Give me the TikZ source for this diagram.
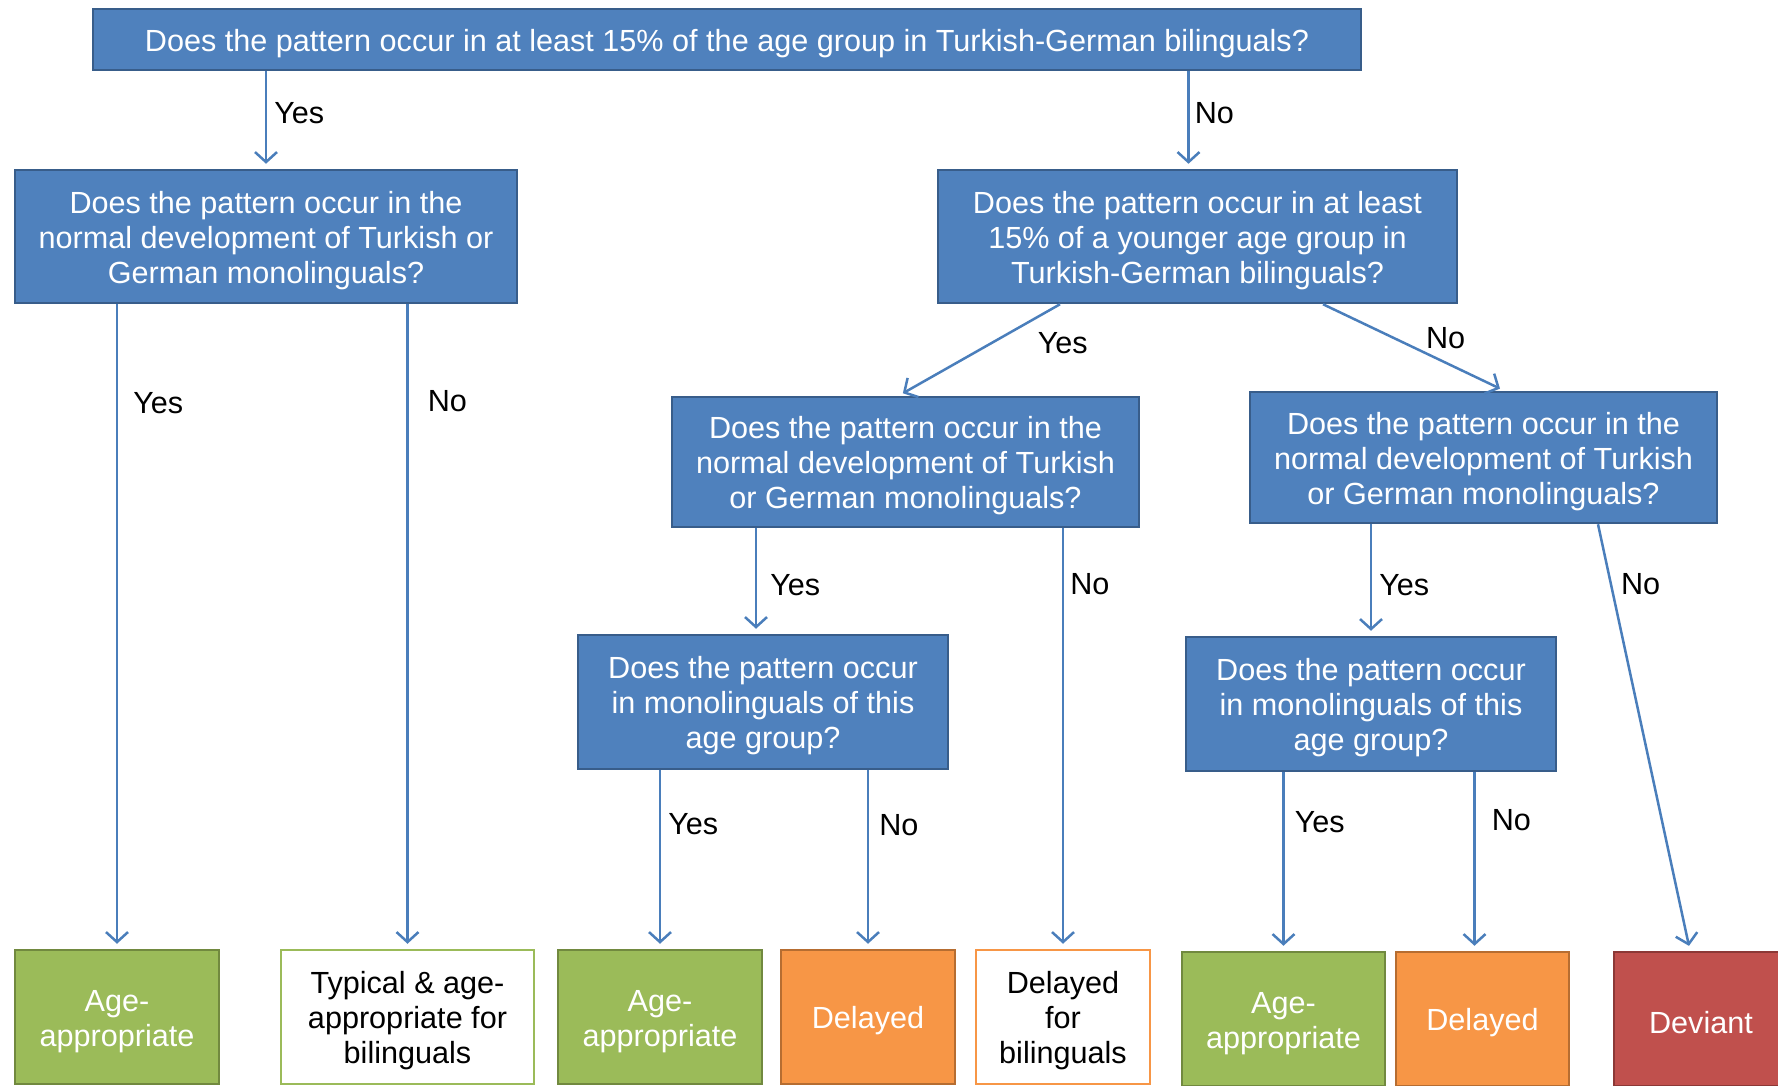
\documentclass[tikz,border=0pt]{standalone}
\usepackage{fontspec}
\setmainfont{Liberation Sans}
\usetikzlibrary{arrows.meta,calc,positioning}

\definecolor{qblue}{HTML}{4F81BD}
\definecolor{qblueline}{HTML}{385D8A}
\definecolor{okgreen}{HTML}{9BBB59}
\definecolor{okgreenline}{HTML}{71893F}
\definecolor{lateorange}{HTML}{F79646}
\definecolor{lateorangeline}{HTML}{B66D31}
\definecolor{badred}{HTML}{C0504D}
\definecolor{badredline}{HTML}{8C3836}
\definecolor{arrowblue}{HTML}{4A7EBB}

% pushes the first line of a box a little down
\newcommand{\toppad}{\rule{0pt}{30pt}}

\begin{document}
\begin{tikzpicture}[x=1pt,y=-1pt,
    every node/.style={font=\fontsize{30.6}{35}\selectfont, align=center, inner sep=0pt},
    boxed/.style={line width=2.5pt},
    quest/.style={boxed, draw=qblueline, fill=qblue, text=white},
    good/.style={boxed, draw=okgreenline, fill=okgreen, text=white, minimum height=134pt},
    goodbi/.style={boxed, draw=okgreen, fill=white, text=black, minimum height=134pt},
    late/.style={boxed, draw=lateorangeline, fill=lateorange, text=white, minimum height=134pt},
    latebi/.style={boxed, draw=lateorange, fill=white, text=black, minimum height=134pt},
    bad/.style={boxed, draw=badredline, fill=badred, text=white, minimum height=134pt},
    arr/.style={draw=arrowblue, line width=2.5pt, shorten >=5pt,
        -{Straight Barb[length=10pt,width=22pt]}},
    lbl/.style={text=black}
]
\useasboundingbox (0,0) rectangle (1778,1086);
\clip (0,0) rectangle (1778,1086);

% questions
\node[quest, minimum width=1268pt, minimum height=61pt] (top) at (727,39.5)
    {\toppad Does the pattern occur in at least 15\% of the age group in Turkish-German bilinguals?};
\node[quest, minimum width=502pt, minimum height=133pt] (qa) at (266,236.5)
    {\toppad Does the pattern occur in the\\normal development of Turkish or\\German monolinguals?};
\node[quest, minimum width=519pt, minimum height=133pt] (qb) at (1197.5,236.5)
    {\toppad Does the pattern occur in at least\\15\% of a younger age group in\\Turkish-German bilinguals?};
\node[quest, minimum width=467pt, minimum height=130pt] (qc) at (905.5,462)
    {\toppad Does the pattern occur in the\\normal development of Turkish\\or German monolinguals?};
\node[quest, minimum width=467pt, minimum height=131pt] (qd) at (1483.5,457.5)
    {\toppad Does the pattern occur in the\\normal development of Turkish\\or German monolinguals?};
\node[quest, minimum width=370pt, minimum height=134pt] (qe) at (763,702)
    {\toppad Does the pattern occur\\in monolinguals of this\\age group?};
\node[quest, minimum width=370pt, minimum height=134pt] (qf) at (1371,704)
    {\toppad Does the pattern occur\\in monolinguals of this\\age group?};

% outcomes
\node[good, minimum width=204pt] (b1) at (117,1017) {\toppad Age-\\appropriate};
\node[goodbi, minimum width=253pt] (b2) at (407.5,1017) {\toppad Typical \& age-\\appropriate for\\bilinguals};
\node[good, minimum width=204pt] (b3) at (660,1017) {\toppad Age-\\appropriate};
\node[late, minimum width=174pt] (b4) at (868,1017) {\toppad Delayed};
\node[latebi, minimum width=174pt] (b5) at (1063,1017) {\toppad Delayed\\for\\bilinguals};
\node[good, minimum width=203pt] (b6) at (1283.5,1019) {\toppad Age-\\appropriate};
\node[late, minimum width=173pt] (b7) at (1482.5,1019) {\toppad Delayed};
\node[bad, minimum width=174pt] (b8) at (1701,1019) {\toppad Deviant};

% connectors
\draw[arr] (top.south -| qa.north) -- node[lbl,pos=.43,right=7pt] {Yes} (qa.north);
\draw[arr] ([xshift=-9pt]qb.north |- top.south) -- node[lbl,pos=.43,right=5pt] {No} ([xshift=-9pt]qb.north);
\draw[arr] (qa.south -| b1.north) -- node[lbl,pos=.154,right=15pt] {Yes} (b1.north);
\draw[arr] (qa.south -| b2.north) -- node[lbl,pos=.151,right=19pt] {No} (b2.north);
\draw[arr] ($(qb.south)+(-137.5,0)$) -- node[lbl,pos=.43,right=46pt] {Yes} ($(qc.north)+(-7,0)$);
\draw[arr] ($(qb.south)+(125.5,0)$) -- node[lbl,pos=.39,right=31pt] {No} ($(qd.north)+(21,0)$);
\draw[arr] ([xshift=-7pt]qe.north |- qc.south) -- node[lbl,pos=.54,right=13pt] {Yes} ([xshift=-7pt]qe.north);
\draw[arr] (qc.south -| b5.north) -- node[lbl,pos=.134,right=6pt] {No} (b5.north);
\draw[arr] (qd.south -| qf.north) -- node[lbl,pos=.55,right=7pt] {Yes} (qf.north);
\draw[arr] ($(qd.south)+(114.5,0)$) -- node[lbl,pos=.14,right=9pt] {No} ($(b8.north)+(-11,0)$);
\draw[arr] (qe.south -| b3.north) -- node[lbl,pos=.30,right=7pt] {Yes} (b3.north);
\draw[arr] (qe.south -| b4.north) -- node[lbl,pos=.31,right=10pt] {No} (b4.north);
\draw[arr] (qf.south -| b6.north) -- node[lbl,pos=.28,right=10pt] {Yes} (b6.north);
\draw[arr] ([xshift=-8pt]b7.north |- qf.south) -- node[lbl,pos=.27,right=16pt] {No} ([xshift=-8pt]b7.north);
\end{tikzpicture}
\end{document}
